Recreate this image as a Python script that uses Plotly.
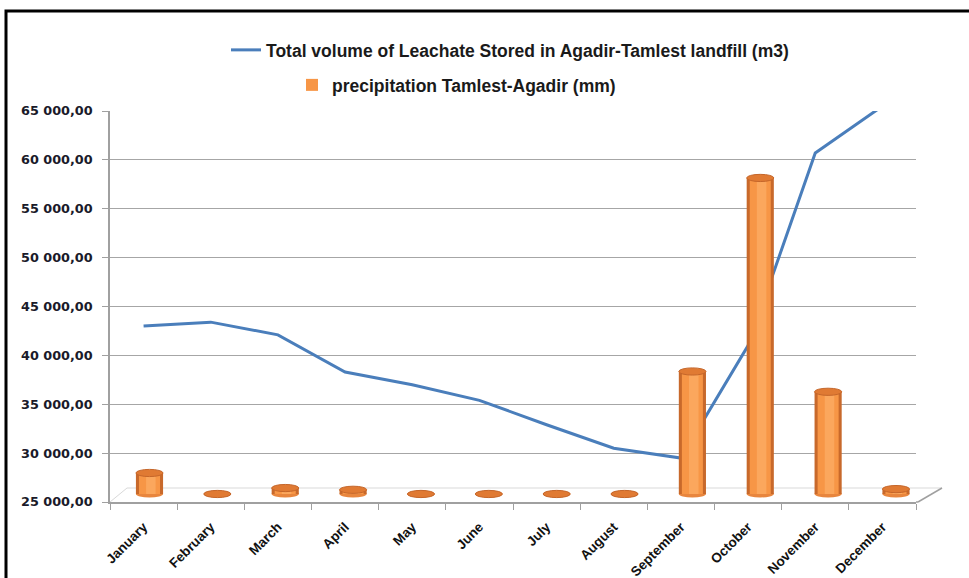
import plotly.graph_objects as go

months = ["January", "February", "March", "April", "May", "June", "July",
          "August", "September", "October", "November", "December"]
leachate_m3 = [43000, 43400, 42100, 38300, 37000, 35400, 32900, 30500,
               29500, 41000, 60700, 65500]
precip_mm = [6.0, 0, 1.7, 1.2, 0, 0, 0, 0, 35.0, 90.3, 29.2, 1.4]
y_ticks = [25000, 30000, 35000, 40000, 45000, 50000, 55000, 60000, 65000]
y_tick_text = ["25 000,00", "30 000,00", "35 000,00", "40 000,00", "45 000,00",
               "50 000,00", "55 000,00", "60 000,00", "65 000,00"]

W, H = 969, 578
L, R, T, B = 110, 53, 111, 76
PW, PH = W - L - R, H - T - B


def px_x(p):
    return (p - L) / PW


def px_y(p):
    return (H - B - p) / PH


idx = list(range(len(months)))
fig = go.Figure()

fig.add_trace(go.Scatter(
    x=months, y=leachate_m3, mode="lines", xaxis="x", yaxis="y",
    line=dict(color="#4a7ebb", width=3),
    name="Total volume of Leachate Stored in Agadir-Tamlest landfill (m3)",
    legend="legend"))

# cylinder-like bars built of overlaid layers
fig.add_trace(go.Bar(x=idx, y=precip_mm, width=0.40, xaxis="x2", yaxis="y2",
                     marker=dict(color="#c8692b", line=dict(width=0)),
                     showlegend=False, hoverinfo="skip"))
fig.add_trace(go.Bar(x=idx, y=precip_mm, width=0.31, xaxis="x2", yaxis="y2",
                     marker=dict(color="#f79646", line=dict(width=0)),
                     name="precipitation Tamlest-Agadir (mm)", legend="legend2"))
fig.add_trace(go.Bar(x=idx, y=precip_mm, width=0.14, offset=-0.05,
                     xaxis="x2", yaxis="y2",
                     marker=dict(color="#fba75d", line=dict(width=0)),
                     showlegend=False, hoverinfo="skip"))

shapes = []
for i, v in zip(idx, precip_mm):
    # bottom rounding
    shapes.append(dict(type="circle", xref="x2", yref="y2", layer="below",
                       x0=i - 0.2, x1=i + 0.2, ysizemode="pixel", yanchor=0,
                       y0=-3.5, y1=3.5, fillcolor="#e8863e",
                       line=dict(width=0)))
    # top ellipse
    shapes.append(dict(type="circle", xref="x2", yref="y2", layer="above",
                       x0=i - 0.2, x1=i + 0.2, ysizemode="pixel", yanchor=v,
                       y0=-3.6, y1=3.6, fillcolor="#e07a33",
                       line=dict(color="#c5662a", width=1)))

# 3D floor edges
shapes += [
    dict(type="line", xref="paper", yref="paper", x0=px_x(127), x1=px_x(942),
         y0=px_y(488), y1=px_y(488), line=dict(color="#d9d9d9", width=1),
         layer="below"),
    dict(type="line", xref="paper", yref="paper", x0=px_x(110), x1=px_x(127),
         y0=px_y(502), y1=px_y(488), line=dict(color="#d9d9d9", width=1),
         layer="below"),
    dict(type="line", xref="paper", yref="paper", x0=px_x(918), x1=px_x(942),
         y0=px_y(502), y1=px_y(488), line=dict(color="#a0a0a0", width=1.5)),
    dict(type="line", xref="paper", yref="paper", x0=1, x1=px_x(918),
         y0=0, y1=0, line=dict(color="#a0a0a0", width=1.5)),
    # chart frame
    dict(type="rect", xref="paper", yref="paper", x0=px_x(6), x1=px_x(990),
         y0=px_y(600), y1=px_y(11), line=dict(color="black", width=3),
         layer="above"),
]

lab_font = dict(family="Liberation Sans, Arial, sans-serif",
                size=17.5, color="#1a1a1a", weight="bold")

fig.update_layout(
    width=W, height=H,
    margin=dict(l=L, r=R, t=T, b=B, autoexpand=False),
    paper_bgcolor="white", plot_bgcolor="white",
    barmode="overlay",
    shapes=shapes,
    xaxis=dict(type="category", range=[-0.5, 11.5], tickson="boundaries",
               ticks="outside", ticklen=6, tickcolor="#a0a0a0",
               showline=True, linecolor="#a0a0a0", linewidth=1.5,
               showgrid=False, tickangle=-45, ticklabelstandoff=10,
               automargin=False,
               tickfont=dict(family="Liberation Sans, Arial, sans-serif",
                             size=13.5, color="#111111", weight="bold")),
    yaxis=dict(range=[25000, 65000], tickvals=y_ticks, ticktext=y_tick_text,
               ticks="outside", ticklen=6, tickcolor="#a0a0a0",
               showline=True, linecolor="#a0a0a0", linewidth=1.5,
               showgrid=True, gridcolor="#a6a6a6", gridwidth=1,
               zeroline=False, ticklabelstandoff=7, automargin=False,
               tickfont=dict(family="DejaVu Sans, Verdana, sans-serif",
                             size=12.8, color="#1a1a2a", weight="bold")),
    xaxis2=dict(overlaying="x", range=[-0.582, 11.295], visible=False),
    yaxis2=dict(overlaying="y", range=[-2.29, 109.43], visible=False),
    legend=dict(x=px_x(226), y=px_y(50), xanchor="left", yanchor="middle",
                font=lab_font, bgcolor="rgba(0,0,0,0)"),
    legend2=dict(x=px_x(292), y=px_y(85), xanchor="left", yanchor="middle",
                 font=lab_font, bgcolor="rgba(0,0,0,0)"),
    hovermode=False,
)

fig.write_html("out.html", config={"displayModeBar": False},
               post_script="document.body.style.margin='0';")
